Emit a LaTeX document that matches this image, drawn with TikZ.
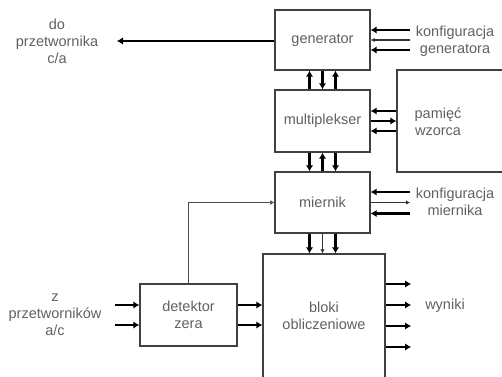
\documentclass[tikz,border=0pt]{standalone}
\usepackage{fontspec}
\setmainfont{Liberation Sans}
\usetikzlibrary{arrows.meta}
\begin{document}
\begin{tikzpicture}[x=1pt,y=-1pt,
  box/.style={draw=black!75,line width=1.4pt,fill=white,inner sep=0pt,text=black!62,align=center,font=\fontsize{14.5}{17}\selectfont},
  lbl/.style={text=black!62,align=center,font=\fontsize{14.5}{17}\selectfont,inner sep=0pt},
  thick arrow/.style={draw=black,line width=2.5pt,-{Latex[length=6pt,width=7.5pt]}},
  thin arrow/.style={draw=black!80,line width=1.2pt,-{Latex[length=4pt,width=4.5pt]}},
]
\useasboundingbox (0,0) rectangle (502,376);
% boxes
\node[box,minimum width=95pt,minimum height=60pt] (gen) at (322.5,40) {generator};
\node[box,minimum width=95pt,minimum height=62pt] (mux) at (322.5,121) {multiplekser};
\node[box,minimum width=110pt,minimum height=102pt] (pam) at (452,121) {};
\node[lbl] (pamtxt) at (438,122) {pamięć\\wzorca};
\node[box,minimum width=95pt,minimum height=61pt] (mier) at (322.5,202.5) {miernik};
\node[box,minimum width=122pt,minimum height=124pt] (blok) at (324,316) {bloki\\obliczeniowe};
\node[box,minimum width=97pt,minimum height=62pt] (det) at (188.5,315) {detektor\\zera};
% labels
\node[lbl] (doca) at (57,41) {do\\przetwornika\\c/a};
\node[lbl] (zac) at (55,315) {z\\przetworników\\a/c};
\node[lbl] (kgen) at (455,41) {konfiguracja\\generatora};
\node[lbl] (kmier) at (455,202) {konfiguracja\\miernika};
\node[lbl] (wyn) at (445,306) {wyniki};
% generator output
\coordinate (genout) at (117,41);
\draw[thick arrow] (gen.west |- genout) -- (genout);
% generator config
\coordinate (kg) at (410,40);
\draw[thick arrow] ([yshift=10pt]kg) -- ([yshift=10pt]gen.east |- kg);
\draw[thin arrow] (kg) -- (gen.east |- kg);
\draw[thick arrow] ([yshift=-10pt]kg) -- ([yshift=-10pt]gen.east |- kg);
% gen <-> mux
\draw[thick arrow] ([xshift=-13pt]mux.north) -- ([xshift=-13pt]gen.south);
\draw[thick arrow] (gen.south) -- (mux.north);
\draw[thick arrow] ([xshift=13pt]mux.north) -- ([xshift=13pt]gen.south);
% mux <-> pam
\draw[thick arrow] ([yshift=10pt]pam.west |- mux.east) -- ([yshift=10pt]mux.east);
\draw[thick arrow] (mux.east) -- (pam.west |- mux.east);
\draw[thick arrow] ([yshift=-10pt]pam.west |- mux.east) -- ([yshift=-10pt]mux.east);
% mux <-> miernik
\draw[thick arrow] ([xshift=-13pt]mux.south) -- ([xshift=-13pt]mier.north);
\draw[thick arrow] (mier.north) -- (mux.south);
\draw[thick arrow] ([xshift=13pt]mux.south) -- ([xshift=13pt]mier.north);
% miernik config
\coordinate (km) at (410,202.5);
\draw[thick arrow] ([yshift=10.5pt]km) -- ([yshift=10.5pt]mier.east |- km);
\draw[thin arrow] (mier.east |- km) -- (km);
\draw[thick arrow] ([yshift=-11pt]km) -- ([yshift=-11pt]mier.east |- km);
% miernik <-> bloki
\draw[thick arrow] ([xshift=-13pt]mier.south) -- ([xshift=-13pt]mier.south |- blok.north);
\draw[thin arrow] (mier.south) -- (mier.south |- blok.north);
\draw[thick arrow] ([xshift=13pt]mier.south) -- ([xshift=13pt]mier.south |- blok.north);
% detektor -> miernik
\draw[draw=black!70,line width=1.4pt,-{Latex[length=4pt,width=5pt]}] (det.north) |- (mier.west);
% inputs
\coordinate (inp) at (115,315);
\draw[thick arrow] ([yshift=10pt]inp) -- ([yshift=10pt]det.west);
\draw[thick arrow] ([yshift=-10pt]inp) -- ([yshift=-10pt]det.west);
\draw[thick arrow] ([yshift=10pt]det.east) -- ([yshift=10pt]det.east -| blok.west);
\draw[thick arrow] ([yshift=-10pt]det.east) -- ([yshift=-10pt]det.east -| blok.west);
% outputs
\coordinate (outp) at (411,316);
\foreach \s in {32,11,-10,-31}{
  \draw[thick arrow] ([yshift=\s pt]blok.east) -- ([yshift=\s pt]outp);
}
\end{tikzpicture}
\end{document}
